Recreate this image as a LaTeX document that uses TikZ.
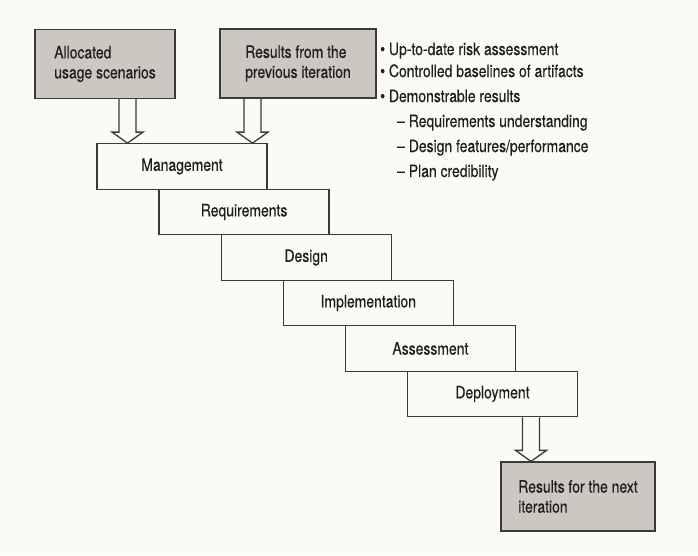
\documentclass[tikz,border=0pt]{standalone}
\usepackage{fontspec}
\setmainfont{TeX Gyre Heros}[FakeStretch=0.82, FakeBold=0.35]
\usetikzlibrary{calc}

\definecolor{paper}{RGB}{251,250,246}
\definecolor{boxgray}{RGB}{203,199,193}
\definecolor{edge}{RGB}{58,58,58}
\definecolor{ink}{RGB}{30,30,30}

\newcommand{\hollowarrow}[2]{%
  \draw[arrowline] ($(#1)+(-8.5,0)$) -- ($(#2)+(-8.5,-11)$) -- ($(#2)+(-15.5,-11)$)
    -- (#2) -- ($(#2)+(15.5,-11)$) -- ($(#2)+(8.5,-11)$) -- ($(#1)+(8.5,0)$);}

\begin{document}
\begin{tikzpicture}
        [x=1pt, y=-1pt,
         every node/.style={inner sep=0pt, text=ink, font=\fontsize{17}{20}\selectfont},
         input/.style={draw=edge, fill=boxgray, line width=1.3pt, align=left, minimum height=69pt},
         activity/.style={draw=edge, fill=paper, line width=1.3pt, minimum width=170pt, minimum height=45.5pt},
         bullet/.style={anchor=base west},
         arrowline/.style={draw=edge, line width=1.3pt, line join=miter}]

        \fill[paper] (0,0) rectangle (698,555);
        \useasboundingbox (0,0) rectangle (698,555);

        % inputs
        \node[input, minimum width=140pt] (alloc) at (105, 64) {Allocated\\usage scenarios};
        \node[input, minimum width=156pt] (prevres) at (298, 63.5) {Results from the\\previous iteration};

        % what the previous iteration hands over
        \node[bullet] (b1) at (380, 55) {• Up-to-date risk assessment};
        \node[bullet] (b2) at (380, 77) {• Controlled baselines of artifacts};
        \node[bullet] (b3) at (380, 102) {• Demonstrable results};
        \node[bullet] (b4) at (397, 127) {– Requirements understanding};
        \node[bullet] (b5) at (397, 152) {– Design features/performance};
        \node[bullet] (b6) at (397, 177) {– Plan credibility};

        % the workflows
        \node[activity] (mgmt) at (182, 166.5) {Management};
        \node[activity] (reqs) at (244.1, 212) {Requirements};
        \node[activity] (dsgn) at (306.2, 257.5) {Design};
        \node[activity] (impl) at (368.3, 303) {Implementation};
        \node[activity] (assess) at (430.4, 348.5) {Assessment};
        \node[activity] (deploy) at (492.5, 394) {Deployment};

        % output
        \node[input, minimum width=154pt] (nextres) at (578, 496.5) {Results for the next\\iteration};

        \coordinate (a1) at ($(alloc.south)+(22.5,0)$);
        \coordinate (a2) at ($(prevres.south)+(-45.5,0)$);
        \coordinate (a3) at ($(deploy.south)+(38.5,0)$);
        \coordinate (t1) at (a1 |- mgmt.north);
        \coordinate (t2) at (a2 |- mgmt.north);
        \coordinate (t3) at (a3 |- nextres.north);

        \hollowarrow{a1}{t1}
        \hollowarrow{a2}{t2}
        \hollowarrow{a3}{t3}

      \end{tikzpicture}
\end{document}
